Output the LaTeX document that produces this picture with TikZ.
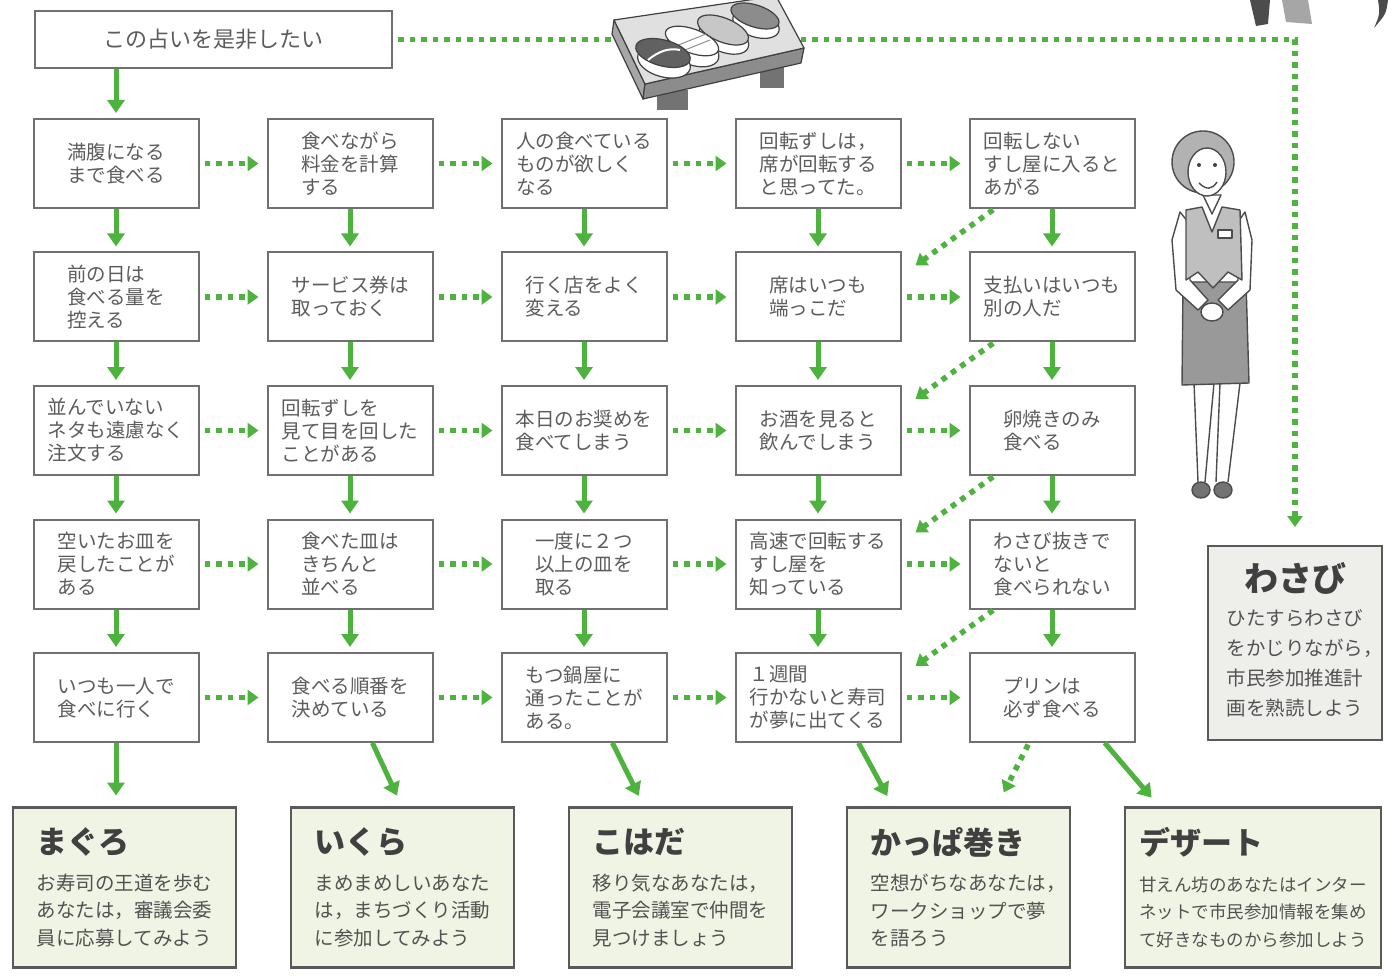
\documentclass[tikz,border=0pt]{standalone}
\usepackage{fontspec}
\setmainfont{Noto Sans CJK JP}
\usetikzlibrary{arrows.meta,positioning}

\definecolor{flowgreen}{RGB}{78,178,62}
\definecolor{boxline}{RGB}{112,112,112}
\definecolor{boxtext}{RGB}{92,92,92}
\definecolor{resfill}{RGB}{240,244,228}
\definecolor{wasabifill}{RGB}{238,238,235}
\newcommand\restitle[1]{{\bfseries\fontsize{31}{36}\selectfont\color{black!75}#1}}

\tikzset{
    %Define standard arrow tip
    >={Triangle[length=13pt,width=17pt]},
    %Define style for question boxes
    qbox/.style={
           rectangle,
           draw=boxline, line width=2pt,
           text=boxtext,
           minimum width=165pt,
           minimum height=89pt,
           outer sep=0pt,
           align=left,
           font=\fontsize{19.5}{23}\selectfont},
    %Define style for answer boxes
    resbox/.style={
           rectangle,
           draw=black!65, line width=2.5pt,
           fill=resfill,
           text=black!68,
           minimum width=223pt,
           minimum height=160pt,
           outer sep=0pt,
           align=left,
           font=\fontsize{19.5}{27.5}\selectfont},
    % solid arrow
    flowline/.style={
           ->,
           draw=flowgreen, line width=5pt,
           shorten <=1pt,
           shorten >=6pt},
    % dotted arrow
    dotline/.style={
           -{Triangle[length=11pt,width=15pt]},
           draw=flowgreen, line width=5.5pt,
           dash pattern=on 5.5pt off 6pt,
           shorten <=6pt,
           shorten >=9pt},
    % one piece of sushi: rice with a slice on top
    sushi/.style={draw=black!75, line width=1.2pt}
}

\begin{document}
\begin{tikzpicture}[x=1pt, y=-1pt, node distance=44.5pt and 69pt]
    \fill[white] (0,0) rectangle (1395,976);
    \useasboundingbox (0,0) rectangle (1395,976);

    \node[qbox, minimum width=357pt, minimum height=57pt,
          font=\fontsize{22}{26}\selectfont] (start) at (213.5,39.5) {この占いを是非したい};

    % row 1
    \node[qbox] (q11) at (116,163.5) {満腹になる\\まで食べる};
    \node[qbox, right=of q11] (q12) {食べながら\\料金を計算\\する};
    \node[qbox, right=of q12] (q13) {人の食べている\\ものが欲しく\\なる};
    \node[qbox, right=of q13] (q14) {回転ずしは，\\席が回転する\\と思ってた。};
    \node[qbox, right=of q14] (q15) {回転しない\\すし屋に入ると\\あがる};
    % row 2
    \node[qbox, below=of q11] (q21) {前の日は\\食べる量を\\控える};
    \node[qbox, right=of q21] (q22) {サービス券は\\取っておく};
    \node[qbox, right=of q22] (q23) {行く店をよく\\変える};
    \node[qbox, right=of q23] (q24) {席はいつも\\端っこだ};
    \node[qbox, right=of q24] (q25) {支払いはいつも\\別の人だ};
    % row 3
    \node[qbox, below=of q21] (q31) {並んでいない\\ネタも遠慮なく\\注文する};
    \node[qbox, right=of q31] (q32) {回転ずしを\\見て目を回した\\ことがある};
    \node[qbox, right=of q32] (q33) {本日のお奨めを\\食べてしまう};
    \node[qbox, right=of q33] (q34) {お酒を見ると\\飲んでしまう};
    \node[qbox, right=of q34] (q35) {卵焼きのみ\\食べる};
    % row 4
    \node[qbox, below=of q31] (q41) {空いたお皿を\\戻したことが\\ある};
    \node[qbox, right=of q41] (q42) {食べた皿は\\きちんと\\並べる};
    \node[qbox, right=of q42] (q43) {一度に２つ\\以上の皿を\\取る};
    \node[qbox, right=of q43] (q44) {高速で回転する\\すし屋を\\知っている};
    \node[qbox, right=of q44] (q45) {わさび抜きで\\ないと\\食べられない};
    % row 5
    \node[qbox, below=of q41] (q51) {いつも一人で\\食べに行く};
    \node[qbox, right=of q51] (q52) {食べる順番を\\決めている};
    \node[qbox, right=of q52] (q53) {もつ鍋屋に\\通ったことが\\ある。};
    \node[qbox, right=of q53] (q54) {１週間\\行かないと寿司\\が夢に出てくる};
    \node[qbox, right=of q54] (q55) {プリンは\\必ず食べる};

    % answers
    \node[resbox] (maguro) at (124.5,887.5) {\restitle{まぐろ}\\[9pt]お寿司の王道を歩む\\あなたは，審議会委\\員に応募してみよう};
    \node[resbox, right=55pt of maguro] (ikura) {\restitle{いくら}\\[9pt]まめまめしいあなた\\は，まちづくり活動\\に参加してみよう};
    \node[resbox, right=55pt of ikura] (kohada) {\restitle{こはだ}\\[9pt]移り気なあなたは\rlap{，}\\電子会議室で仲間を\\見つけましょう};
    \node[resbox, right=55pt of kohada] (kappa) {\restitle{かっぱ巻き}\\[9pt]空想がちなあなたは\rlap{，}\\ワークショップで夢\\を語ろう};
    \node[resbox, right=55pt of kappa, minimum width=256pt,
          font=\fontsize{17.5}{27.5}\selectfont] (dessert) {\restitle{デザート}\\[9pt]甘えん坊のあなたはインター\\ネットで市民参加情報を集め\\て好きなものから参加しよう};
    \node[resbox, fill=wasabifill, minimum width=174pt, minimum height=194pt,
          align=center, font=\fontsize{19.5}{30}\selectfont] (wasabi) at (1295,643)
          {{\bfseries\fontsize{34}{40}\selectfont\color{black!75}わさび}\\[9pt]
           \begin{tabular}{@{}l@{}}ひたすらわさび\\をかじりながら\rlap{，}\\市民参加推進計\\画を熟読しよう\end{tabular}};

    % straight down
    \draw[flowline] (start.south -| q11.north) -- (q11.north);
    \path (q11) edge[flowline] (q21) (q21) edge[flowline] (q31) (q31) edge[flowline] (q41) (q41) edge[flowline] (q51);
    \path (q12) edge[flowline] (q22) (q22) edge[flowline] (q32) (q32) edge[flowline] (q42) (q42) edge[flowline] (q52);
    \path (q13) edge[flowline] (q23) (q23) edge[flowline] (q33) (q33) edge[flowline] (q43) (q43) edge[flowline] (q53);
    \path (q14) edge[flowline] (q24) (q24) edge[flowline] (q34) (q34) edge[flowline] (q44) (q44) edge[flowline] (q54);
    \path (q15) edge[flowline] (q25) (q25) edge[flowline] (q35) (q35) edge[flowline] (q45) (q45) edge[flowline] (q55);

    % sideways
    \path (q11) edge[dotline] (q12) (q12) edge[dotline] (q13) (q13) edge[dotline] (q14) (q14) edge[dotline] (q15);
    \path (q21) edge[dotline] (q22) (q22) edge[dotline] (q23) (q23) edge[dotline] (q24) (q24) edge[dotline] (q25);
    \path (q31) edge[dotline] (q32) (q32) edge[dotline] (q33) (q33) edge[dotline] (q34) (q34) edge[dotline] (q35);
    \path (q41) edge[dotline] (q42) (q42) edge[dotline] (q43) (q43) edge[dotline] (q44) (q44) edge[dotline] (q45);
    \path (q51) edge[dotline] (q52) (q52) edge[dotline] (q53) (q53) edge[dotline] (q54) (q54) edge[dotline] (q55);

    % back to the fourth column
    \draw[dotline, shorten <=3pt, shorten >=0pt] ([xshift=26pt]q15.south west) -- ([xshift=15pt,yshift=-13pt]q24.north east);
    \draw[dotline, shorten <=3pt, shorten >=0pt] ([xshift=26pt]q25.south west) -- ([xshift=15pt,yshift=-13pt]q34.north east);
    \draw[dotline, shorten <=3pt, shorten >=0pt] ([xshift=26pt]q35.south west) -- ([xshift=15pt,yshift=-13pt]q44.north east);
    \draw[dotline, shorten <=3pt, shorten >=0pt] ([xshift=26pt]q45.south west) -- ([xshift=15pt,yshift=-13pt]q54.north east);

    % into the answers
    \draw[flowline, shorten >=12pt] (q51.south) -- (q51.south |- maguro.north);
    \draw[flowline, shorten >=13pt] ([xshift=22pt]q52.south) -- (ikura.north);
    \draw[flowline, shorten >=13pt] ([xshift=28pt]q53.south) -- ([xshift=-36pt]kohada.north);
    \draw[flowline, shorten >=13pt] ([xshift=40pt]q54.south) -- ([xshift=-65pt]kappa.north);
    \draw[flowline, shorten >=13pt] ([xshift=52pt]q55.south) -- ([xshift=-93pt]dessert.north);
    \draw[dotline, shorten <=3pt, shorten >=17pt] ([xshift=60pt]q55.south west) -- ([xshift=-74pt]kappa.north east);
    \draw[dotline, shorten >=19pt] (start.east) -| (wasabi.north);

    % sushi on a geta
    \begin{scope}[draw=black!75, line width=1.2pt, line join=round]
      \fill[black!55] (657,90) rectangle (688,110);
      \fill[black!55] (760,66) rectangle (784,88);
      \filldraw[fill=black!35] (614,20) -- (645,84) -- (643,99) -- (612,34) -- cycle;
      \filldraw[fill=black!45] (645,84) -- (804,48) -- (801,63) -- (643,99) -- cycle;
      \filldraw[fill=black!12] (614,20) -- (776,-4) -- (804,48) -- (645,84) -- cycle;
      \filldraw[sushi, fill=white, rotate around={-18:(756,24)}] (756,24) ellipse (24pt and 13pt);
      \filldraw[sushi, fill=black!45, rotate around={-18:(755,16)}] (755,16) ellipse (25pt and 11pt);
      \filldraw[sushi, fill=white, rotate around={-22:(724,38)}] (724,38) ellipse (26pt and 14pt);
      \filldraw[sushi, fill=black!22, rotate around={-22:(723,30)}] (723,30) ellipse (27pt and 12pt);
      \filldraw[sushi, fill=white, rotate around={-20:(693,50)}] (693,50) ellipse (27pt and 15pt);
      \filldraw[sushi, fill=white, rotate around={-20:(692,41)}] (692,41) ellipse (28pt and 12pt);
      \draw[black!45, line width=1pt] (676,46) -- (706,34) (680,52) -- (710,40);
      \filldraw[sushi, fill=white, rotate around={-15:(664,62)}] (664,62) ellipse (27pt and 15pt);
      \filldraw[sushi, fill=black!62, rotate around={-15:(663,53)}] (663,53) ellipse (28pt and 13pt);
      \draw[white, line width=2pt] (648,60) .. controls (660,50) and (670,48) .. (680,50);
    \end{scope}

    % shop assistant
    \begin{scope}[draw=black!70, line width=1.4pt, line join=round]
      \draw (1194,383) -- (1198,482);
      \draw (1214,383) -- (1205,482);
      \draw (1220,383) -- (1216,482);
      \draw (1240,383) -- (1228,482);
      \filldraw[fill=black!55] (1201,490) ellipse (9pt and 8pt);
      \filldraw[fill=black!55] (1223,490) ellipse (9pt and 8pt);
      \filldraw[fill=black!40] (1183,282) -- (1246,282) -- (1249,383) -- (1182,385) -- cycle;
      \filldraw[fill=white] (1180,212) -- (1172,240) -- (1176,290) -- (1198,310) -- (1208,300) -- (1190,280) -- (1188,222) -- cycle;
      \filldraw[fill=white] (1245,212) -- (1252,240) -- (1250,290) -- (1228,310) -- (1218,300) -- (1238,280) -- (1238,222) -- cycle;
      \filldraw[fill=black!25] (1186,210) -- (1202,207) -- (1212,232) -- (1222,207) -- (1240,210) -- (1242,280) -- (1228,272) -- (1213,288) -- (1198,272) -- (1186,280) -- cycle;
      \filldraw[fill=white] (1218,230) rectangle (1232,238);
      \filldraw[fill=white] (1212,312) ellipse (11pt and 9pt);
      \filldraw[fill=white] (1203,195) -- (1212,214) -- (1221,195) -- cycle;
      \filldraw[fill=black!30] (1203,162) circle (31pt);
      \filldraw[fill=white] (1207,172) ellipse (19pt and 24pt);
      \fill[black!75] (1199,165) circle (2pt) (1215,165) circle (2pt);
      \draw (1199,183) .. controls (1206,190) and (1212,190) .. (1217,182);
    \end{scope}

    % figures cut off at the top edge
    \fill[black!70] (1250,0) -- (1270,0) -- (1268,24) -- (1256,26) -- cycle;
    \fill[black!35] (1282,0) -- (1308,0) -- (1312,24) -- (1286,22) -- cycle;
    \fill[black!70] (1378,0) -- (1388,0) .. controls (1386,14) .. (1374,28) .. controls (1380,14) .. (1378,0);
\end{tikzpicture}
\end{document}
